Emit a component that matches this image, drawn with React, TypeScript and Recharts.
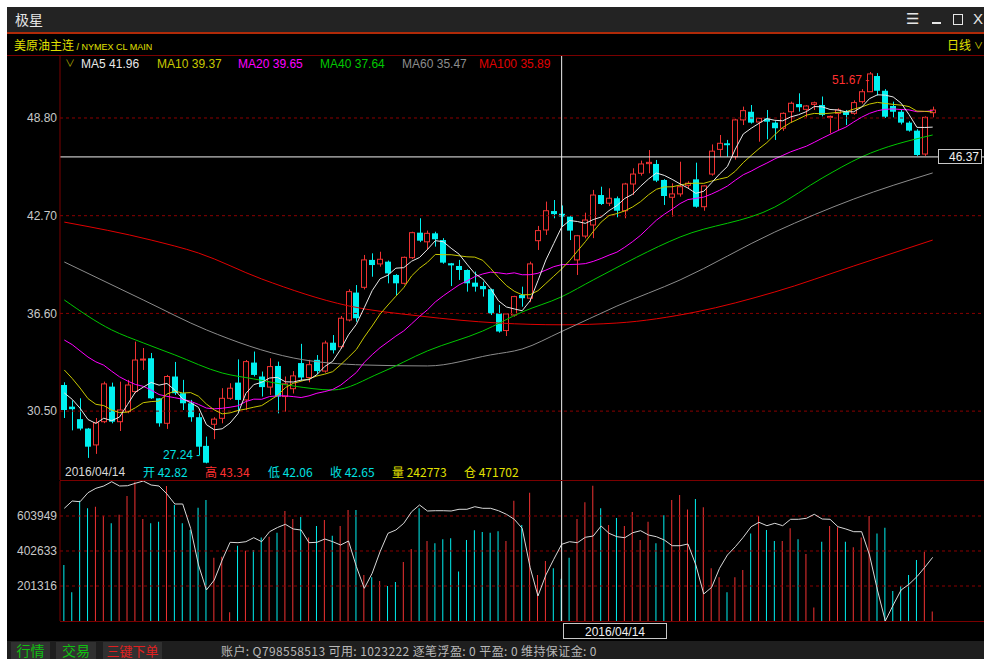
import React from "react";
import { Bar, Cell, ComposedChart, Line, ReferenceLine, XAxis, YAxis } from "recharts";

// daily candles (index 63 = 2016/04/14)
const opens = [
  32.13, 30.78, 30.0, 29.41, 28.39, 29.84, 32.03, 29.84, 30.47, 31.72,
  33.7, 33.8, 31.3, 29.74, 32.66, 31.62, 30.99, 30.12, 28.33, 29.68,
  30.05, 31.3, 32.28, 31.2, 33.53, 32.66, 32.0, 33.32, 31.41, 31.9,
  33.5, 32.6, 33.7, 33.0, 34.77, 34.52, 36.19, 37.9, 38.23, 39.94,
  39.69, 39.83, 39.0, 38.48, 40.08, 41.64, 41.07, 41.6, 41.18, 39.73,
  39.56, 39.31, 38.52, 38.31, 38.11, 36.6, 35.53, 36.5, 37.75, 37.55,
  41.14, 41.81, 42.99, 42.82, 42.64, 39.94, 41.43, 42.12, 43.99, 43.48,
  43.79, 43.01, 44.68, 45.35, 45.95, 45.93, 44.93, 43.85, 44.06, 44.6,
  44.97, 43.26, 45.3, 46.84, 47.22, 46.38, 48.68, 49.19, 48.55, 48.78,
  48.51, 48.16, 49.19, 49.67, 49.34, 49.65, 49.61, 48.86, 49.09, 49.19,
  49.09, 49.82, 50.44, 51.42, 50.5, 49.55, 49.19, 48.51, 48.01, 46.55, 49.13,
];
const highs = [
  32.3, 31.17, 31.3, 29.45, 30.07, 32.34, 32.28, 32.34, 32.45, 34.84,
  34.44, 34.13, 31.3, 32.76, 33.57, 32.45, 31.2, 30.37, 28.91, 30.12,
  31.93, 32.24, 33.73, 33.69, 34.22, 32.97, 33.8, 33.59, 32.66, 33.0,
  34.7, 33.7, 34.0, 34.9, 35.25, 36.44, 38.11, 38.37, 40.25, 40.35,
  40.45, 39.9, 39.05, 40.15, 41.7, 42.54, 41.77, 41.7, 41.3, 39.75,
  39.94, 39.35, 39.21, 38.58, 38.15, 37.13, 36.6, 37.7, 38.27, 39.83,
  42.06, 43.58, 43.68, 43.34, 42.7, 41.5, 42.89, 44.31, 44.51, 44.41,
  43.9, 44.75, 45.66, 46.14, 46.8, 46.18, 44.98, 44.72, 46.07, 44.85,
  46.01, 44.6, 47.15, 47.74, 47.43, 48.75, 49.51, 49.61, 48.8, 49.3,
  48.6, 49.15, 49.82, 50.34, 49.6, 49.82, 50.14, 48.95, 49.4, 49.3,
  49.9, 50.6, 51.67, 51.6, 50.6, 49.82, 49.3, 48.6, 48.1, 48.9, 49.51,
];
const lows = [
  30.07, 29.3, 29.3, 27.58, 27.83, 29.75, 29.74, 29.26, 30.37, 31.62,
  33.07, 31.26, 29.53, 29.39, 31.51, 30.57, 29.84, 27.76, 27.24, 28.75,
  29.74, 31.2, 30.47, 30.57, 32.66, 31.41, 31.51, 30.36, 30.47, 31.6,
  32.4, 32.3, 32.8, 32.9, 34.1, 34.4, 36.1, 36.08, 38.1, 38.89,
  39.52, 38.48, 37.75, 38.4, 40.0, 41.05, 40.56, 40.77, 39.7, 38.31,
  38.69, 37.96, 37.96, 37.65, 36.5, 35.4, 35.19, 36.4, 37.02, 37.3,
  40.56, 41.5, 42.54, 42.06, 41.18, 39.0, 41.29, 41.3, 43.37, 43.3,
  42.6, 42.54, 43.99, 45.2, 45.35, 44.8, 43.37, 42.64, 43.89, 44.4,
  43.2, 43.01, 45.2, 46.38, 46.38, 46.2, 48.36, 48.45, 47.32, 47.47,
  47.43, 48.0, 48.5, 49.2, 48.84, 49.3, 48.9, 47.84, 48.05, 48.36,
  49.0, 49.7, 50.44, 50.2, 48.8, 48.84, 48.4, 47.95, 46.43, 46.43, 48.84,
];
const closes = [
  30.57, 30.62, 29.41, 28.28, 29.78, 32.2, 29.84, 30.57, 32.13, 33.69,
  33.75, 31.3, 29.74, 32.66, 31.62, 30.99, 30.12, 28.28, 27.28, 30.0,
  31.3, 31.93, 31.2, 33.59, 32.76, 32.0, 33.28, 31.41, 32.2, 32.7,
  32.6, 33.4, 33.0, 34.75, 34.3, 36.3, 37.96, 36.3, 39.94, 39.62,
  39.98, 39.1, 38.48, 40.1, 41.64, 41.14, 41.6, 41.23, 39.77, 39.6,
  39.31, 38.48, 38.27, 38.11, 36.6, 35.47, 36.57, 37.65, 37.55, 39.69,
  41.77, 43.01, 42.8, 42.65, 41.77, 41.45, 42.43, 43.99, 43.43, 43.79,
  43.01, 44.68, 45.3, 45.93, 46.03, 44.89, 43.93, 44.06, 44.51, 44.73,
  43.26, 44.56, 46.73, 47.22, 47.1, 48.68, 49.26, 48.51, 48.78, 48.57,
  48.16, 49.09, 49.72, 49.47, 49.55, 49.75, 48.99, 48.9, 49.3, 48.99,
  49.76, 50.44, 51.55, 50.5, 48.88, 49.19, 48.51, 48.01, 46.49, 48.84, 49.3,
];
// closes before the first visible day (estimated, only used for MA5/10/20)
const priorCloses = [
  36.4, 37.2, 36.0, 35.8, 36.3, 37.4, 37.6, 37.3, 38.0, 36.1,
  35.9, 35.4, 34.9, 33.33, 33.0, 32.6, 32.2, 31.8, 31.0,
];
const volumes = [
  322000, 165000, 692000, 648000, 657000, 606000, 562000, 611000, 719000, 801000,
  587000, 562000, 571000, 776000, 667000, 562000, 523000, 652000, 696000, 364000,
  370000, 50000, 433000, 404000, 408000, 481000, 485000, 508000, 633000, 587000,
  598000, 481000, 546000, 581000, 491000, 546000, 638000, 638000, 265000, 251000,
  230000, 201000, 224000, 339000, 414000, 648000, 460000, 447000, 470000, 476000,
  284000, 466000, 522000, 512000, 508000, 516000, 460000, 692000, 552000, 738000,
  265000, 345000, 303000, 242773, 364000, 587000, 683000, 778000, 648000, 552000,
  592000, 546000, 627000, 466000, 571000, 447000, 608000, 696000, 725000, 642000,
  702000, 654000, 303000, 251000, 165000, 251000, 293000, 504000, 604000, 523000,
  460000, 460000, 533000, 470000, 385000, 77000, 456000, 546000, 539000, 456000,
  424000, 481000, 604000, 504000, 537000, 173000, 201000, 265000, 351000, 399000, 54000,
];
const openInterest = [
  573200, 593700, 591800, 617100, 629500, 636000, 648100, 636000, 636800, 643600,
  650100, 638800, 636000, 613500, 585300, 585300, 516800, 413500, 343000, 371200,
  427500, 477400, 476300, 479100, 490400, 479100, 507300, 519100, 528100, 514900,
  512000, 476300, 477400, 486700, 479100, 469800, 481100, 408700, 347800, 390100,
  450900, 502700, 512000, 530900, 563600, 582500, 565600, 566400, 566400, 565600,
  570400, 570400, 577700, 573200, 573200, 566400, 556300, 542200, 516800, 407000,
  326100, 385300, 429500, 471702, 479100, 476300, 491500, 495100, 523300, 502700,
  493200, 490400, 504400, 510100, 498000, 493200, 483900, 467800, 467800, 472600,
  413500, 331800, 350600, 404200, 441600, 465000, 491500, 521300, 533700, 524200,
  530900, 524200, 542200, 542200, 545000, 556300, 543000, 542200, 521300, 514900,
  507300, 507300, 441600, 343000, 255700, 300800, 343000, 359100, 380500, 407000, 435100,
];
// long averages at a few days: [day index, value]
const ma40Points = [
  [0, 37.44], [6, 35.57], [10, 34.76], [14, 34.01], [20, 32.88], [24, 32.51], [29, 32.07],
  [34, 31.82], [40, 32.88], [46, 34.26], [53, 35.5], [58, 36.69], [63, 37.64], [67, 38.69],
  [78, 41.37], [90, 43.24], [96, 45.05], [101, 46.37], [110, 47.74],
];
const ma60Points = [
  [0, 39.81], [10, 37.44], [18, 35.57], [29, 33.82], [38, 33.38], [46, 33.32], [54, 34.01],
  [58, 34.38], [63, 35.47], [70, 37.06], [78, 38.69], [90, 41.68], [100, 43.74], [110, 45.37],
];
const ma100Points = [
  [0, 42.3], [11, 41.18], [17, 40.37], [25, 38.75], [36, 37.07], [45, 36.44], [55, 36.0],
  [63, 35.89], [70, 36.0], [80, 36.69], [90, 37.94], [100, 39.56], [110, 41.18],
];

const priceTicks = [30.5, 36.6, 42.7, 48.8];
const volumeTicks = [201316, 402633, 603949];
const legendItems = [
  { label: "MA5", value: "41.96", color: "#e8e8e8", x: 81 },
  { label: "MA10", value: "39.37", color: "#c8c800", x: 157 },
  { label: "MA20", value: "39.65", color: "#ff00ff", x: 238 },
  { label: "MA40", value: "37.64", color: "#00c800", x: 320 },
  { label: "MA60", value: "35.47", color: "#8c8c8c", x: 402 },
  { label: "MA100", value: "35.89", color: "#e00000", x: 479 },
];
const infoItems = [
  { text: "开 42.82", color: "#00e0e0", x: 143 },
  { text: "高 43.34", color: "#ff3030", x: 205 },
  { text: "低 42.06", color: "#00e0e0", x: 268 },
  { text: "收 42.65", color: "#00e0e0", x: 330 },
  { text: "量 242773", color: "#e0e000", x: 392 },
  { text: "仓 471702", color: "#e0e000", x: 464 },
];
const cursorDay = 63;
const cursorDate = "2016/04/14";
const cursorPrice = 46.37;

const FONT = '"Liberation Sans", "Noto Sans CJK SC", sans-serif';
const CJK = '"Noto Sans CJK SC", "Liberation Sans", sans-serif';
const CYAN = "#00f0f0";
const RED = "#f03232";
const GRID = "#8a0000";
const AXIS = "#7a0000";
const X_DOMAIN: [number, number] = [-0.545, 116.5];

function movingAverage(n: number) {
  const all = [...priorCloses, ...closes];
  const off = priorCloses.length;
  return closes.map((_, i) => {
    let s = 0;
    for (let k = i + off - n + 1; k <= i + off; k++) s += all[k];
    return s / n;
  });
}

function sparse(points: number[][]) {
  const out: (number | null)[] = closes.map(() => null);
  points.forEach(([i, v]) => {
    out[i] = v;
  });
  return out;
}

const ma5 = movingAverage(5);
const ma10 = movingAverage(10);
const ma20 = movingAverage(20);
const ma40 = sparse(ma40Points);
const ma60 = sparse(ma60Points);
const ma100 = sparse(ma100Points);

const rows = closes.map((c, i) => ({
  i,
  open: opens[i],
  high: highs[i],
  low: lows[i],
  close: c,
  up: c >= opens[i],
  vol: volumes[i],
  oi: openInterest[i],
  ma5: ma5[i],
  ma10: ma10[i],
  ma20: ma20[i],
  ma40: ma40[i],
  ma60: ma60[i],
  ma100: ma100[i],
}));

function Candle(props: any) {
  const { x, y, width, height, payload } = props;
  if (x == null || y == null) return null;
  const { open, close, high, low } = payload;
  const top = Math.min(y, y + height);
  const h = Math.abs(height);
  const ppu = h / (high - low || 1);
  const yOf = (v: number) => top + (high - v) * ppu;
  const px = Math.round(x + width / 2);
  const up = close >= open;
  const color = up ? RED : CYAN;
  const bTop = yOf(Math.max(open, close));
  const bBot = yOf(Math.min(open, close));
  const bh = Math.max(bBot - bTop, 1);
  return (
    <g>
      <line x1={px + 0.5} x2={px + 0.5} y1={top} y2={top + h} stroke={color} strokeWidth={1} />
      {up ? (
        <rect x={px - 2.5} y={bTop} width={5} height={bh} fill="#000" stroke={color} strokeWidth={1} />
      ) : (
        <rect x={px - 3} y={bTop} width={6} height={bh} fill={color} />
      )}
    </g>
  );
}

const abs = (l: number, t: number, extra: React.CSSProperties = {}): React.CSSProperties => ({
  position: "absolute",
  left: l,
  top: t,
  whiteSpace: "nowrap",
  ...extra,
});

export default function App() {
  return (
    <div style={abs(0, 0, { width: 984, height: 659, background: "#fff", overflow: "hidden", fontFamily: FONT })}>
      <div style={abs(7, 7, { width: 977, height: 652, background: "#000" })} />

      {/* title bar */}
      <div style={abs(7, 7, { width: 977, height: 25, background: "#232323" })} />
      <div style={abs(15, 10, { color: "#e6e6e6", fontSize: 14, lineHeight: "18px", fontFamily: CJK })}>极星</div>
      <div style={abs(906, 9, { color: "#e6e6e6", fontSize: 15, lineHeight: "20px", fontFamily: '"DejaVu Sans", sans-serif' })}>
        ☰
      </div>
      <div style={abs(932, 22, { width: 9, height: 2, background: "#e6e6e6" })} />
      <div style={abs(953, 14, { width: 8, height: 9, border: "1.5px solid #e6e6e6" })} />
      <div style={abs(973, 9, { color: "#e6e6e6", fontSize: 15, lineHeight: "20px" })}>X</div>
      <div style={abs(7, 32, { width: 977, height: 2, background: "#b02a08" })} />

      {/* instrument row */}
      <div style={abs(14, 38, { color: "#e0e000", fontSize: 12, lineHeight: "14px", fontFamily: CJK })}>
        美原油主连
        <span style={{ fontFamily: FONT, fontSize: 9 }}> / NYMEX CL MAIN</span>
      </div>
      <div style={abs(947, 38, { color: "#e0e000", fontSize: 12, lineHeight: "14px", fontFamily: CJK })}>日线</div>
      <div style={abs(974, 39, { color: "#e0e000", fontSize: 9, lineHeight: "14px" })}>∨</div>
      <div style={abs(7, 55, { width: 977, height: 1, background: AXIS })} />

      {/* price pane */}
      <div style={abs(0, 56)}>
        <ComposedChart width={984} height={424} data={rows} margin={{ top: 0, right: 0, bottom: 0, left: 0 }}>
          <XAxis dataKey="i" type="number" domain={X_DOMAIN} hide allowDataOverflow />
          <YAxis
            domain={[26.2, 52.67]}
            ticks={priceTicks}
            allowDataOverflow
            width={60}
            tickFormatter={(v: number) => v.toFixed(2)}
            tick={{ fill: "#c8c8c8", fontSize: 12, fontFamily: FONT }}
            tickLine={false}
            tickSize={0}
            tickMargin={3}
            axisLine={{ stroke: AXIS }}
          />
          {priceTicks.map((t) => (
            <ReferenceLine key={t} y={t} stroke={GRID} strokeDasharray="3 3" />
          ))}
          <Bar dataKey={(d: any) => [d.low, d.high]} barSize={6} shape={<Candle />} isAnimationActive={false} />
          <Line dataKey="ma100" type="monotone" connectNulls stroke="#e00000" dot={false} strokeWidth={1} isAnimationActive={false} />
          <Line dataKey="ma60" type="monotone" connectNulls stroke="#8c8c8c" dot={false} strokeWidth={1} isAnimationActive={false} />
          <Line dataKey="ma40" type="monotone" connectNulls stroke="#00c800" dot={false} strokeWidth={1} isAnimationActive={false} />
          <Line dataKey="ma20" type="linear" stroke="#ff00ff" dot={false} strokeWidth={1} isAnimationActive={false} />
          <Line dataKey="ma10" type="linear" stroke="#c8c800" dot={false} strokeWidth={1} isAnimationActive={false} />
          <Line dataKey="ma5" type="linear" stroke="#e8e8e8" dot={false} strokeWidth={1} isAnimationActive={false} />
          <ReferenceLine x={cursorDay} stroke="#f0f0f0" />
          <ReferenceLine y={cursorPrice} stroke="#f0f0f0" />
        </ComposedChart>
      </div>

      {/* MA legend */}
      <div style={abs(65, 57, { color: "#a0a000", fontSize: 10, lineHeight: "14px" })}>∨</div>
      {legendItems.map((m) => (
        <div key={m.label} style={abs(m.x, 57, { color: m.color, fontSize: 12, lineHeight: "14px" })}>
          {m.label} {m.value}
        </div>
      ))}

      {/* extreme labels */}
      <div style={abs(832, 73, { color: "#ff3030", fontSize: 12, lineHeight: "14px" })}>51.67 -</div>
      <div style={abs(163, 448, { color: "#00e0e0", fontSize: 12, lineHeight: "14px" })}>27.24 -</div>

      {/* cursor price box */}
      <div
        style={abs(938, 149, {
          width: 44,
          height: 15,
          background: "#000",
          border: "1px solid #c8c8c8",
          color: "#f0f0f0",
          fontSize: 12,
          lineHeight: "15px",
          textAlign: "right",
          paddingRight: 2,
          boxSizing: "border-box",
        })}
      >
        46.37
      </div>

      {/* info row */}
      <div style={abs(65, 465, { color: "#d8d8d8", fontSize: 12, lineHeight: "14px" })}>{cursorDate}</div>
      {infoItems.map((it) => (
        <div key={it.text} style={abs(it.x, 465, { color: it.color, fontSize: 12, lineHeight: "14px", fontFamily: CJK })}>
          {it.text}
        </div>
      ))}
      <div style={abs(60, 480, { width: 924, height: 1, background: AXIS })} />

      {/* volume pane */}
      <div style={abs(0, 481)}>
        <ComposedChart width={984} height={140} data={rows} margin={{ top: 0, right: 0, bottom: 0, left: 0 }}>
          <XAxis dataKey="i" type="number" domain={X_DOMAIN} hide allowDataOverflow />
          <YAxis
            yAxisId="v"
            domain={[0, 805265]}
            ticks={volumeTicks}
            allowDataOverflow
            width={60}
            tick={{ fill: "#c8c8c8", fontSize: 12, fontFamily: FONT }}
            tickLine={false}
            tickSize={0}
            tickMargin={3}
            axisLine={{ stroke: AXIS }}
          />
          <YAxis yAxisId="oi" orientation="right" hide domain={["dataMin", "dataMax"]} />
          {volumeTicks.map((t) => (
            <ReferenceLine key={t} yAxisId="v" y={t} stroke={GRID} strokeDasharray="3 3" />
          ))}
          <Bar yAxisId="v" dataKey="vol" barSize={1} isAnimationActive={false}>
            {rows.map((r) => (
              <Cell key={r.i} fill={r.up ? RED : CYAN} />
            ))}
          </Bar>
          <Line yAxisId="oi" dataKey="oi" type="linear" stroke="#d8d8d8" dot={false} strokeWidth={1} isAnimationActive={false} />
          <ReferenceLine yAxisId="v" x={cursorDay} stroke="#f0f0f0" />
        </ComposedChart>
      </div>
      <div style={abs(60, 621, { width: 924, height: 1, background: AXIS })} />

      {/* cursor date box */}
      <div
        style={abs(563, 623, {
          width: 104,
          height: 16,
          border: "1px solid #c8c8c8",
          color: "#f0f0f0",
          fontSize: 12,
          lineHeight: "16px",
          textAlign: "center",
          boxSizing: "border-box",
        })}
      >
        {cursorDate}
      </div>

      {/* status bar */}
      <div style={abs(7, 641, { width: 977, height: 18, background: "#1e1e1e" })} />
      <div style={abs(11, 642, { width: 39, height: 17, background: "#303030", color: "#10c010", fontSize: 14, lineHeight: "17px", textAlign: "center", fontFamily: CJK })}>
        行情
      </div>
      <div style={abs(56, 642, { width: 40, height: 17, background: "#303030", color: "#10c010", fontSize: 14, lineHeight: "17px", textAlign: "center", fontFamily: CJK })}>
        交易
      </div>
      <div style={abs(103, 642, { width: 59, height: 17, background: "#303030", color: "#e02020", fontSize: 13, lineHeight: "17px", textAlign: "center", fontFamily: CJK })}>
        三键下单
      </div>
      <div style={abs(221, 643, { color: "#b8b8b8", fontSize: 12, letterSpacing: 0.4, lineHeight: "16px", fontFamily: CJK })}>
        账户: Q798558513 可用: 1023222 逐笔浮盈: 0 平盈: 0 维持保证金: 0
      </div>
    </div>
  );
}
